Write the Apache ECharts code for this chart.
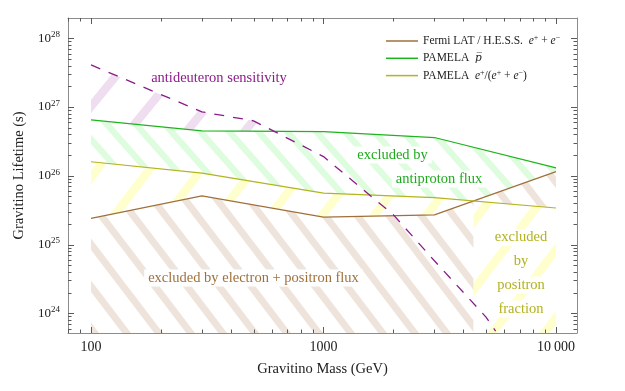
<!DOCTYPE html>
<html><head><meta charset="utf-8">
<script src="https://cdn.jsdelivr.net/npm/echarts@6/dist/echarts.min.js"></script>
<style>html,body{margin:0;padding:0;background:#fff}#c{width:625px;height:391px}</style>
</head><body><div id="c"></div>
<script>
// ---- data ----
const masses = [100, 300, 1000, 3000, 10000];                       // GeV
const fermiLifetime = [2.4e25, 5.1e25, 2.5e25, 2.7e25, 1.15e26];      // s
const pamelaPbarLifetime = [6.5e26, 4.5e26, 4.4e26, 3.6e26, 1.3e26];  // s
const pamelaFracLifetime = [1.6e26, 1.09e26, 5.6e25, 4.8e25, 3.4e25]; // s
const antideuteronMasses = [100, 300, 500, 1000, 2000, 3000, 5000, 5500];
const antideuteronLifetime = [4.1e27, 8.5e26, 6.3e26, 1.9e26, 2.7e25, 5.8e24, 8.8e23, 5.5e23];
const xTickValues = [100, 1000, 10000];
const xTickLabels = ['100', '1000', '10\u2009000'];
const yTickExponents = [24, 25, 26, 27, 28];

const names = {
  fermi: 'Fermi LAT / H.E.S.S. e+ + e-',
  pbar: 'PAMELA pbar',
  frac: 'PAMELA e+/(e+ + e-)',
  dbar: 'antideuteron sensitivity'
};
const colors = { fermi: '#a0703c', pbar: '#1eb41e', frac: '#b4b41e', dbar: '#8a1c8a' };

const L = Math.log10;
const X_MIN = 1.901, X_MAX = 4.0904, Y_MIN = 23.713, Y_MAX = 28.295;

function pairs(xs, ys) { return xs.map((m, i) => [L(m), L(ys[i])]); }

function makePattern(color, S, H, phase, dir, lw) {
  const c = document.createElement('canvas');
  c.width = S; c.height = H;
  const ctx = c.getContext('2d');
  ctx.fillStyle = '#ffffff'; ctx.fillRect(0, 0, S, H);
  ctx.strokeStyle = color; ctx.lineWidth = lw; ctx.lineCap = 'butt';
  for (let k = -3; k <= 3; k++) {
    const x0 = phase + k * S;
    ctx.beginPath();
    if (dir === '\\') { ctx.moveTo(x0 - 2 * S, -2 * H); ctx.lineTo(x0 + 2 * S, 2 * H); }
    else { ctx.moveTo(x0 - 2 * S, 2 * H); ctx.lineTo(x0 + 2 * S, -2 * H); }
    ctx.stroke();
  }
  return { image: c, repeat: 'repeat' };
}
const patBrown = makePattern('#eee4dc', 32, 42, 1, '\\', 7);
const patGreen = makePattern('#defcde', 29, 33, 26.7, '\\', 6.3);
const patYellow = makePattern('#ffffce', 52, 68, 19, '/', 8.5);
const patPurple = makePattern('#efdeef', 58, 71, 4, '/', 8.5);

function pts(api, xs, ys) { return xs.map((m, i) => api.coord([L(m), L(ys[i])])); }
function belowPolygon(api, xs, ys) {
  const p = pts(api, xs, ys);
  const yb = api.coord([X_MIN, Y_MIN])[1];
  return p.concat([[p[p.length - 1][0], yb], [p[0][0], yb]]);
}
function areaSeries(name, z, pattern, build) {
  return {
    type: 'custom', name: name, coordinateSystem: 'cartesian2d',
    xAxisIndex: 0, yAxisIndex: 0, z: z, silent: true, clip: true,
    data: [[3, 26]],
    renderItem: function (params, api) {
      return { type: 'polygon', shape: { points: build(api) }, style: { fill: pattern, stroke: null } };
    }
  };
}
function yellowRight(api) {
  const Y = pts(api, masses, pamelaFracLifetime);
  const B = pts(api, masses, fermiLifetime);
  const yb = api.coord([X_MIN, Y_MIN])[1];
  for (let i = 0; i < Y.length - 1; i++) {
    const d0 = Y[i][1] - B[i][1], d1 = Y[i + 1][1] - B[i + 1][1];
    if (d0 < 0 && d1 >= 0) {
      const t = d0 / (d0 - d1);
      const P = [Y[i][0] + t * (Y[i + 1][0] - Y[i][0]), Y[i][1] + t * (Y[i + 1][1] - Y[i][1])];
      const poly = [P].concat(Y.slice(i + 1));
      poly.push([Y[Y.length - 1][0], yb], [P[0], yb]);
      return poly;
    }
  }
  return [];
}

const FONT = 'Liberation Serif';
const axisGray = '#8c8c8c';
const tickColor = '#5a5a5a';
const xMinor = [], yMinor = [];
for (let e = 1; e <= 4; e++) for (let m = 2; m <= 9; m++) { const v = L(m * Math.pow(10, e)); if (v > X_MIN && v < X_MAX) xMinor.push(v); }
for (let e = 23; e <= 28; e++) for (let m = 2; m <= 9; m++) { const v = L(m * Math.pow(10, e)); if (v > Y_MIN && v < Y_MAX) yMinor.push(v); }

// frame ticks (inside, on all four sides) drawn through the axes' own scale
const tickSeries = {
  type: 'custom', name: 'ticks', coordinateSystem: 'cartesian2d', xAxisIndex: 0, yAxisIndex: 0,
  z: 25, silent: true, clip: false, data: [[3, 26]],
  renderItem: function (params, api) {
    const children = [];
    const x0 = api.coord([X_MIN, Y_MIN])[0], x1 = api.coord([X_MAX, Y_MIN])[0];
    const yb = api.coord([X_MIN, Y_MIN])[1], yt = api.coord([X_MIN, Y_MAX])[1];
    function seg(a, b, c, d) {
      children.push({ type: 'line', shape: { x1: a, y1: b, x2: c, y2: d }, style: { stroke: tickColor, lineWidth: 1 } });
    }
    function xt(v, len) { const x = Math.round(api.coord([v, Y_MIN])[0]) + 0.5; seg(x, yb, x, yb - len); seg(x, yt, x, yt + len); }
    function ytk(v, len) { const y = Math.round(api.coord([X_MIN, v])[1]) + 0.5; seg(x0, y, x0 + len, y); seg(x1, y, x1 - len, y); }
    xTickValues.forEach(v => xt(L(v), 6));
    xMinor.forEach(v => xt(v, 3.5));
    yTickExponents.forEach(v => ytk(v, 6));
    yMinor.forEach(v => ytk(v, 3.5));
    return { type: 'group', children: children };
  }
};

function xAxis(pos, labels) {
  return {
    type: 'value', position: pos, min: X_MIN, max: X_MAX,
    axisLine: { show: true, onZero: false, lineStyle: { color: axisGray, width: 1 } },
    axisTick: { show: false },
    splitLine: { show: false },
    axisLabel: labels ? {
      show: true, customValues: xTickValues.map(L), margin: 7, color: '#222', fontFamily: FONT, fontSize: 14,
      formatter: function (v) { let b = 0; xTickValues.forEach((t, i) => { if (Math.abs(L(t) - v) < 1e-6) b = i; }); return xTickLabels[b]; }
    } : { show: false },
    name: labels ? 'Gravitino Mass (GeV)' : '', nameLocation: 'middle', nameGap: 29,
    nameTextStyle: { fontFamily: FONT, fontSize: 14.5, color: '#222' }
  };
}
function yAxis(pos, labels) {
  return {
    type: 'value', position: pos, min: Y_MIN, max: Y_MAX,
    axisLine: { show: true, onZero: false, lineStyle: { color: axisGray, width: 1 } },
    axisTick: { show: false },
    splitLine: { show: false },
    axisLabel: labels ? {
      show: true, customValues: yTickExponents, margin: 8, color: '#222', fontFamily: FONT,
      formatter: function (v) { return '{b|10}{s|' + Math.round(v) + '}'; },
      rich: { b: { fontFamily: FONT, fontSize: 13, lineHeight: 16, color: '#222' },
              s: { fontFamily: FONT, fontSize: 9, lineHeight: 10, verticalAlign: 'top', color: '#222' } }
    } : { show: false },
    name: labels ? 'Gravitino Lifetime (s)' : '', nameLocation: 'middle', nameGap: 40, nameRotate: 90,
    nameTextStyle: { fontFamily: FONT, fontSize: 14.5, color: '#222' }
  };
}

const legendRich = {
  i: { fontFamily: FONT, fontStyle: 'italic', fontSize: 11.5, lineHeight: 14, color: '#222' },
  pb: { fontFamily: 'DejaVu Serif', fontStyle: 'italic', fontSize: 10.5, lineHeight: 14, color: '#222' },
  sup: { fontFamily: FONT, fontSize: 8, lineHeight: 9, verticalAlign: 'top', color: '#222' },
  n: { fontFamily: FONT, fontSize: 11.5, lineHeight: 14, color: '#222' }
};
const legendText = {};
legendText[names.fermi] = '{n|Fermi LAT / H.E.S.S.  }{i|e}{sup|+}{n| + }{i|e}{sup|\u2212}';
legendText[names.pbar] = '{n|PAMELA  }{pb|p\u0305}';
legendText[names.frac] = '{n|PAMELA  }{i|e}{sup|+}{n|/(}{i|e}{sup|+}{n| + }{i|e}{sup|\u2212}{n|)}';

function lineSeries(name, xs, ys, color, dashed) {
  return {
    type: 'line', name: name, xAxisIndex: 0, yAxisIndex: 0, data: pairs(xs, ys),
    showSymbol: false, symbol: 'none', z: 10, clip: true, silent: true,
    lineStyle: { color: color, width: dashed ? 1.3 : 1.2, type: dashed ? [10, 9] : 'solid' },
    itemStyle: { color: color }
  };
}

function label(text, x, y, color) {
  return { type: 'text', z: 30, x: x, y: y, silent: true,
    style: { text: text, fill: color, font: '14.5px "Liberation Serif"', align: 'center', verticalAlign: 'middle',
             backgroundColor: '#fff', padding: [1, 4] } };
}

const chart = echarts.init(document.getElementById('c'), null, { renderer: 'canvas' });
chart.setOption({
  animation: false,
  textStyle: { fontFamily: FONT },
  grid: { left: 68, right: 48, top: 18, bottom: 58, containLabel: false },
  xAxis: [xAxis('bottom', true), xAxis('top', false)],
  yAxis: [yAxis('left', true), yAxis('right', false)],
  legend: {
    data: [names.fermi, names.pbar, names.frac], orient: 'vertical', left: 386, top: 34, padding: 0,
    icon: 'rect', itemWidth: 32, itemHeight: 1.5, itemGap: 3.3, selectedMode: false,
    textStyle: { fontFamily: FONT, fontSize: 11.5, color: '#222', lineHeight: 14, rich: legendRich },
    formatter: function (n) { return legendText[n]; }
  },
  graphic: [
    label('antideuteron sensitivity', 219, 78, '#8a1c8a'),
    label('excluded by', 392.5, 155, '#1eaa1e'),
    label('antiproton flux', 439, 179, '#1eaa1e'),
    label('excluded by electron + positron flux', 253.5, 278, '#a0703c'),
    label('excluded', 521, 237.5, '#b2b21e'),
    label('by', 521, 261, '#b2b21e'),
    label('positron', 521, 285, '#b2b21e'),
    label('fraction', 521, 309, '#b2b21e')
  ],
  series: [
    areaSeries('dbar area', 1, patPurple, api => belowPolygon(api, antideuteronMasses, antideuteronLifetime)),
    areaSeries('pbar area', 2, patGreen, api => belowPolygon(api, masses, pamelaPbarLifetime)),
    areaSeries('frac area', 3, patYellow, api => belowPolygon(api, masses, pamelaFracLifetime)),
    areaSeries('fermi area', 4, patBrown, api => belowPolygon(api, masses, fermiLifetime)),
    areaSeries('frac area right', 5, patYellow, yellowRight),
    lineSeries(names.fermi, masses, fermiLifetime, colors.fermi, false),
    lineSeries(names.pbar, masses, pamelaPbarLifetime, colors.pbar, false),
    lineSeries(names.frac, masses, pamelaFracLifetime, colors.frac, false),
    lineSeries(names.dbar, antideuteronMasses, antideuteronLifetime, colors.dbar, true),
    tickSeries
  ]
});
</script></body></html>
